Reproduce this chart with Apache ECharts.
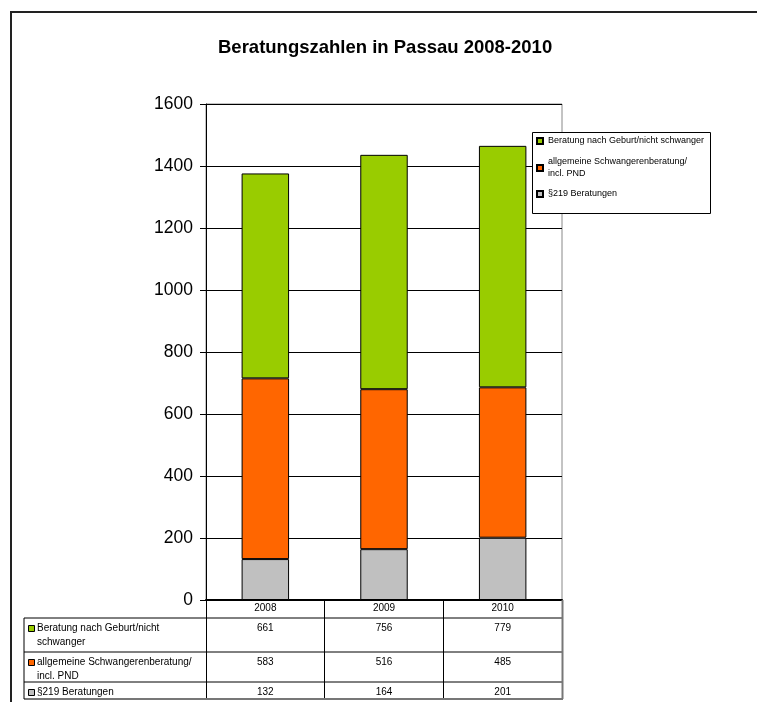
<!DOCTYPE html>
<html>
<head>
<meta charset="utf-8">
<title>Beratungszahlen in Passau 2008-2010</title>
<script src="https://cdn.jsdelivr.net/npm/echarts@6/dist/echarts.min.js"></script>
<style>
  html, body { margin: 0; padding: 0; background: #fff; }
  #main { width: 757px; height: 702px; }
</style>
</head>
<body>
<div id="main"></div>
<script>
// Jahre und Beratungszahlen
const years = ['2008', '2009', '2010'];
const para219 = [132, 164, 201];
const allgemein = [583, 516, 485];
const nachGeburt = [661, 756, 779];

const nameGreen = 'Beratung nach Geburt/nicht schwanger';
const nameOrange = 'allgemeine Schwangerenberatung/ incl. PND';
const nameGray = '§219 Beratungen';

// Zeilenbeschriftungen der Datentabelle (oben nach unten)
const tableLabels = [
  ['Beratung nach Geburt/nicht', 'schwanger'],
  ['allgemeine Schwangerenberatung/', 'incl. PND'],
  ['§219 Beratungen']
];
const tableValues = [nachGeburt, allgemein, para219];

const cGreen = '#99CC00', cOrange = '#FF6600', cGray = '#C0C0C0';
const tableColors = [cGreen, cOrange, cGray];
const font = 'Liberation Sans, Arial, sans-serif';

const chart = echarts.init(document.getElementById('main'));

const barStyle = (c) => ({ color: c, borderColor: '#000', borderWidth: 1 });
const legendBase = {
  orient: 'vertical', left: 536, padding: 0, itemWidth: 6, itemHeight: 6,
  selectedMode: false, z: 10, icon: 'rect',
  textStyle: { fontSize: 9, lineHeight: 12, color: '#000', fontFamily: font }
};

chart.setOption({
  animation: false,
  backgroundColor: '#fff',
  textStyle: { fontFamily: font },
  title: {
    text: 'Beratungszahlen in Passau 2008-2010',
    left: 213, top: 33,
    textStyle: { fontSize: 18.5, fontWeight: 'bold', color: '#000', fontFamily: font }
  },
  grid: { left: 206, top: 104, right: 195, bottom: 102, show: true, borderColor: '#888', borderWidth: 1 },
  xAxis: {
    type: 'category', data: years,
    axisLine: { lineStyle: { color: '#000', width: 2 } },
    axisTick: { show: true, length: 98, interval: 0, lineStyle: { color: '#000', width: 1 } },
    axisLabel: { fontSize: 10, color: '#000', margin: 3, verticalAlign: 'top', fontFamily: font },
    splitLine: { show: false }
  },
  yAxis: {
    type: 'value', min: 0, max: 1600, interval: 200,
    axisLine: { show: true, lineStyle: { color: '#000' } },
    axisTick: { show: true, length: 6, lineStyle: { color: '#000' } },
    axisLabel: { fontSize: 17.5, color: '#000', margin: 13, fontFamily: font, formatter: (v) => String(v) },
    splitLine: { show: true, lineStyle: { color: '#000', width: 1 } }
  },
  legend: [
    Object.assign({}, legendBase, { top: 135, data: [nameGreen] }),
    Object.assign({}, legendBase, {
      top: 150, data: [nameOrange],
      formatter: (n) => n.replace('/ ', '/\n'),
      textStyle: Object.assign({}, legendBase.textStyle, { padding: [12, 0, 0, 0] })
    }),
    Object.assign({}, legendBase, { top: 188, data: [nameGray] })
  ],
  series: [
    { name: nameGray, type: 'bar', stack: 'total', barWidth: '40%', data: para219, itemStyle: barStyle(cGray) },
    { name: nameOrange, type: 'bar', stack: 'total', barWidth: '40%', data: allgemein, itemStyle: barStyle(cOrange) },
    { name: nameGreen, type: 'bar', stack: 'total', barWidth: '40%', data: nachGeburt, itemStyle: barStyle(cGreen) }
  ]
});

// Datentabelle unter dem Diagramm, Spalten an der Kategorieachse ausgerichtet
const colX = years.map((y) => chart.convertToPixel({ xAxisIndex: 0 }, y));
const rightEdge = colX[colX.length - 1] + (colX[1] - colX[0]) / 2;
const tableLeft = 24;
const rowTops = [618, 652, 682];
const tableBottom = 699;

const g = [];
// äußerer Rahmen
g.push({ type: 'polyline', shape: { points: [[11, 702], [11, 12], [757, 12]] }, style: { stroke: '#222', lineWidth: 2, fill: null }, z: 1 });
// Tabellenlinien
rowTops.forEach((y) => {
  g.push({ type: 'line', shape: { x1: tableLeft, y1: y, x2: rightEdge, y2: y }, style: { stroke: '#000', lineWidth: 1 }, z: 1 });
});
g.push({ type: 'line', shape: { x1: tableLeft, y1: tableBottom, x2: rightEdge + 1, y2: tableBottom }, style: { stroke: '#777', lineWidth: 2 }, z: 1 });
g.push({ type: 'line', shape: { x1: tableLeft, y1: rowTops[0], x2: tableLeft, y2: tableBottom }, style: { stroke: '#000', lineWidth: 1 }, z: 1 });
g.push({ type: 'line', shape: { x1: rightEdge + 0.5, y1: 600, x2: rightEdge + 0.5, y2: tableBottom }, style: { stroke: '#777', lineWidth: 2 }, z: 1 });

tableLabels.forEach((lines, i) => {
  const top = rowTops[i];
  g.push({ type: 'rect', shape: { x: 28.5, y: top + 7.5, width: 6, height: 6 }, style: { fill: tableColors[i], stroke: '#000', lineWidth: 1 }, z: 2 });
  lines.forEach((t, k) => {
    g.push({ type: 'text', x: 37, y: top + 10 + k * 14.5, style: { text: t, fontSize: 10, fontFamily: font, fill: '#000', verticalAlign: 'middle' }, z: 2 });
  });
  tableValues[i].forEach((v, j) => {
    g.push({ type: 'text', x: colX[j], y: top + 10, style: { text: String(v), fontSize: 10, fontFamily: font, fill: '#000', align: 'center', verticalAlign: 'middle' }, z: 2 });
  });
});

// Rahmen der Legende
g.push({ type: 'rect', shape: { x: 532.5, y: 132.5, width: 178, height: 81 }, style: { fill: '#fff', stroke: '#000', lineWidth: 1 }, z: 5 });

chart.setOption({ graphic: g });
</script>
</body>
</html>
